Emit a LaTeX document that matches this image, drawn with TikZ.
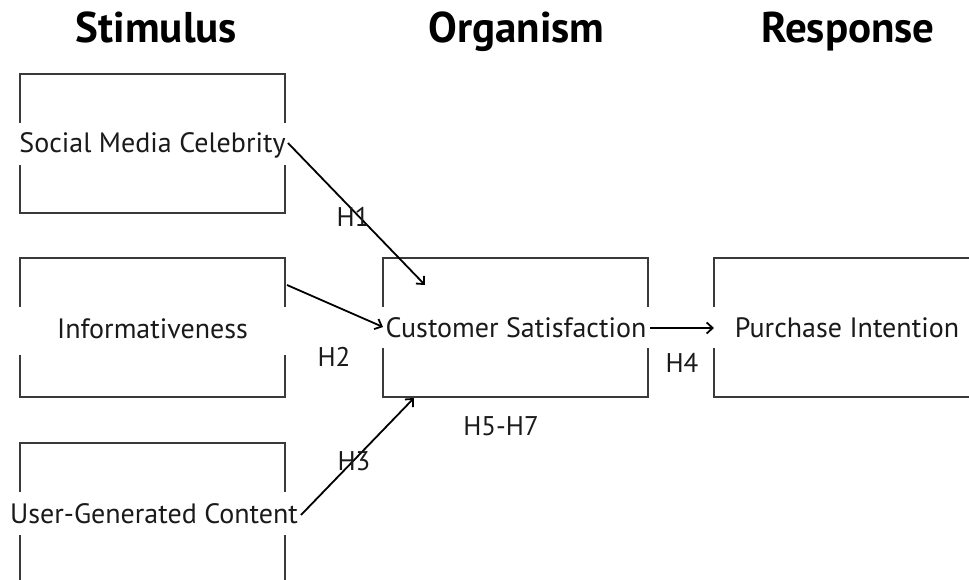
\documentclass[tikz,border=0pt]{standalone}
\usepackage{fontspec}
\setmainfont{PT Sans}
\usetikzlibrary{arrows.meta}
\definecolor{boxline}{HTML}{3A3A3A}
\definecolor{ink}{HTML}{1A1A1A}
\tikzset{
  frame/.style={draw=boxline, line width=1.6pt, minimum width=265pt, minimum height=139pt, inner sep=0pt},
  gapband/.style={fill=white, draw=none, minimum width=271pt, inner sep=0pt},
  boxtext/.style={font=\fontsize{28}{32}\selectfont, text=ink, inner sep=0pt, anchor=base},
  head/.style={font=\fontsize{43}{48}\selectfont\bfseries, text=black, inner sep=0pt, anchor=base},
  hlabel/.style={font=\fontsize{27}{30}\selectfont, text=ink, inner sep=0pt, anchor=base},
  link/.style={draw=black, line width=1.8pt, -{Straight Barb[length=6pt,width=11pt,line width=1.8pt]}}
}
\begin{document}
\begin{tikzpicture}[x=1pt,y=-1pt]
\useasboundingbox (0,0) rectangle (969,580);
\begin{scope}
\clip (0,0) rectangle (969,580);
% headings
\node[head] (hs) at (156.5,43) {Stimulus};
\node[head] (ho) at (516.5,43) {Organism};
\node[head] (hr) at (848,43) {Response};
% boxes
\node[frame] (b1) at (152.5,143.5) {};
\node[frame] (b2) at (152.5,327.5) {};
\node[frame] (b3) at (152.5,512.5) {};
\node[frame] (b4) at (515.5,327.5) {};
\node[frame] (b5) at (846.5,327.5) {};
% gaps in side lines
\node[gapband, minimum height=42pt] (g1) at (152.5,144) {};
\node[gapband, minimum height=48pt] (g2) at (152.5,331) {};
\node[gapband, minimum height=43pt] (g3) at (152.5,513.5) {};
\node[gapband, minimum height=41pt] (g4) at (515.5,327.5) {};
\node[gapband, minimum height=41pt] (g5) at (846.5,327.5) {};
% texts
\node[boxtext] (t1) at (152.5,153) {Social Media Celebrity};
\node[boxtext] (t2) at (152.5,338) {Informativeness};
\node[boxtext] (t3) at (154,523) {User-Generated Content};
\node[boxtext] (t4) at (516,337) {Customer Satisfaction};
\node[boxtext] (t5) at (847,337) {Purchase Intention};
% helper coordinates
\coordinate (a1s) at (288,143);
\coordinate (a1e) at (425,285);
\coordinate (a2s) at (287,285);
\coordinate (a2e) at (383,327);
\coordinate (a3s) at (301,515);
\coordinate (a3e) at (414,398);
\coordinate (a4s) at (650,328);
\coordinate (a4e) at (714,328);
% connectors
\draw[link] (a1s) -- (a1e);
\draw[link] (a2s) -- (a2e);
\draw[link] (a3s) -- (a3e);
\draw[link] (a4s) -- (a4e);
% labels
\node[hlabel] (h1) at (353,226) {H1};
\node[hlabel] (h2) at (334,366) {H2};
\node[hlabel] (h3) at (354,470) {H3};
\node[hlabel] (h4) at (682,372) {H4};
\node[hlabel] (h5) at (501,435) {H5-H7};
\end{scope}
\end{tikzpicture}
\end{document}
